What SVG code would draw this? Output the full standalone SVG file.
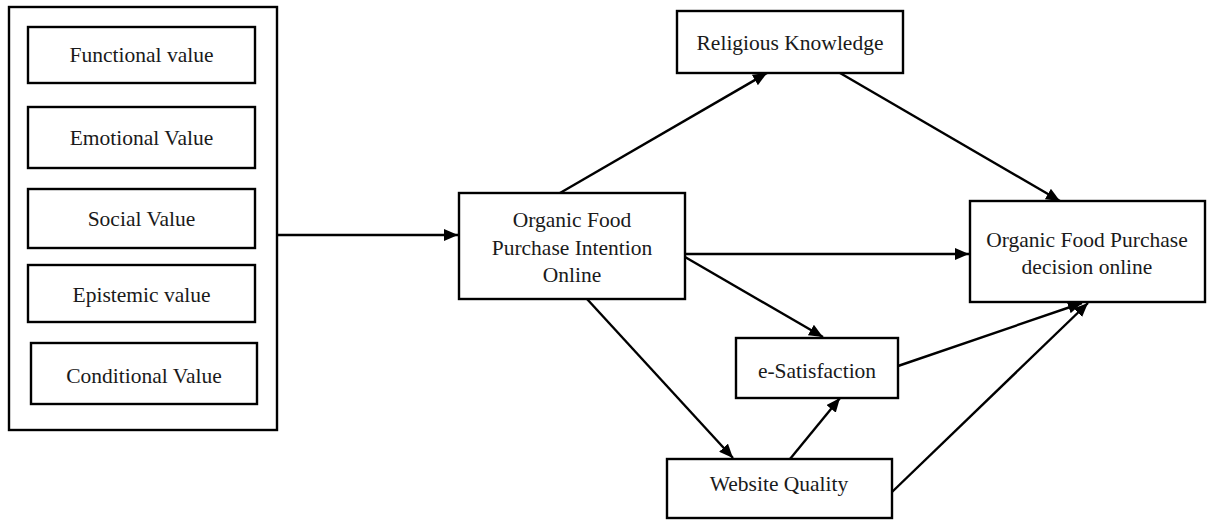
<svg xmlns="http://www.w3.org/2000/svg" width="1212" height="520" viewBox="0 0 1212 520">
<style>
.box{fill:#fff;stroke:#000;stroke-width:2.4}
.t{font-family:"Liberation Serif","Times New Roman",serif;font-size:21.5px;fill:#1a1a1a;text-anchor:middle;dominant-baseline:central}
.c{stroke:#000;stroke-width:2.4;fill:none;marker-end:url(#ah)}
</style>
<defs>
<marker id="ah" viewBox="0 0 14 12" refX="14" refY="6" markerWidth="14" markerHeight="12" markerUnits="userSpaceOnUse" orient="auto">
<path d="M0,0 L14,6 L0,12 Z" fill="#000"/>
</marker>
</defs>
<g id="values-group">
<rect class="box" x="9" y="7" width="268" height="423"/>
</g>
<g id="functional"><rect class="box" x="28" y="27" width="227" height="56"/><text class="t" x="141.5" y="55">Functional value</text></g>
<g id="emotional"><rect class="box" x="28" y="107" width="227" height="61"/><text class="t" x="141.5" y="138">Emotional Value</text></g>
<g id="social"><rect class="box" x="28" y="189" width="227" height="59"/><text class="t" x="141.5" y="219">Social Value</text></g>
<g id="epistemic"><rect class="box" x="28" y="265" width="227" height="57"/><text class="t" x="141.5" y="295">Epistemic value</text></g>
<g id="conditional"><rect class="box" x="31" y="343" width="226" height="61"/><text class="t" x="144" y="376">Conditional Value</text></g>
<g id="intention"><rect class="box" x="459" y="193" width="226" height="106"/>
<text class="t" x="572" y="220">Organic Food</text>
<text class="t" x="572" y="248">Purchase Intention</text>
<text class="t" x="572" y="275">Online</text></g>
<g id="religious"><rect class="box" x="677" y="11" width="226" height="62"/><text class="t" x="790" y="43">Religious Knowledge</text></g>
<g id="decision"><rect class="box" x="970" y="201" width="235" height="101"/>
<text class="t" x="1087" y="240">Organic Food Purchase</text>
<text class="t" x="1087" y="267">decision online</text></g>
<g id="esatisfaction"><rect class="box" x="736" y="338" width="162" height="60"/><text class="t" x="817" y="371">e-Satisfaction</text></g>
<g id="website"><rect class="box" x="667" y="459" width="225" height="59"/><text class="t" x="779" y="484">Website Quality</text></g>
<g id="connectors">
<line class="c" x1="277" y1="235" x2="458" y2="235"/>
<line class="c" x1="560" y1="193" x2="767" y2="73"/>
<line class="c" x1="840" y1="73" x2="1060" y2="201"/>
<line class="c" x1="685" y1="254" x2="969" y2="254"/>
<line class="c" x1="685" y1="257" x2="823" y2="337"/>
<line class="c" x1="898" y1="366" x2="1082" y2="303"/>
<line class="c" x1="587" y1="299" x2="733" y2="458"/>
<line class="c" x1="790" y1="459" x2="840" y2="398"/>
<line class="c" x1="892" y1="492" x2="1088" y2="303"/>
</g>
</svg>
